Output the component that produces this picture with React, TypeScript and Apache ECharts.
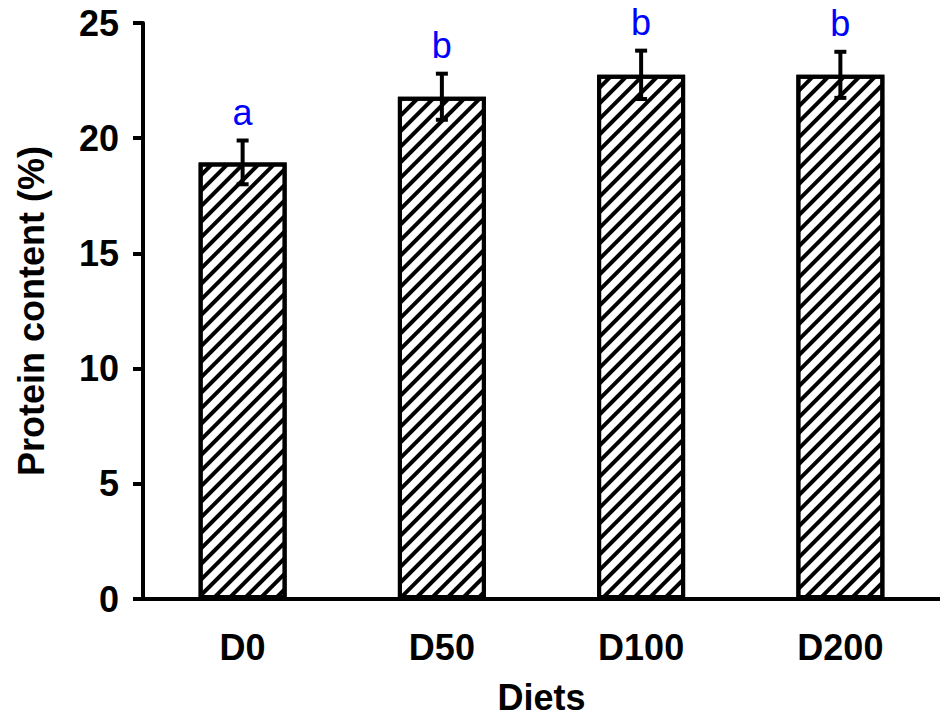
import React, { useEffect, useRef } from "react";
import * as echarts from "echarts";

const categories = ["D0", "D50", "D100", "D200"];
const proteinMeans = [18.95, 21.8, 22.75, 22.75];
const proteinErrors = [0.95, 1.0, 1.05, 1.0];
const groupLetters = ["a", "b", "b", "b"];
const yTicks = { min: 0, max: 25, interval: 5 };

const FONT = "'Liberation Sans', Arial, Helvetica, sans-serif";

export default function App() {
  const ref = useRef<HTMLDivElement>(null);
  useEffect(() => {
    if (!ref.current) return;
    const chart = echarts.init(ref.current, undefined, { renderer: "svg" });
    const errData = categories.map((_, i) => [i, proteinMeans[i], proteinErrors[i]]);
    chart.setOption({
      animation: false,
      backgroundColor: "#ffffff",
      grid: { left: 143, top: 23, width: 808, height: 583, containLabel: false },
      xAxis: {
        type: "category",
        data: categories,
        name: "Diets",
        nameLocation: "middle",
        nameGap: 80,
        nameTextStyle: { fontFamily: FONT, fontWeight: "bold", fontSize: 36, color: "#000" },
        axisLine: { show: true, lineStyle: { color: "#000", width: 4 } },
        axisTick: { show: false },
        axisLabel: { margin: 30, fontFamily: FONT, fontWeight: "bold", fontSize: 36, color: "#000" },
        splitLine: { show: false },
      },
      yAxis: {
        type: "value",
        min: yTicks.min,
        max: yTicks.max,
        interval: yTicks.interval,
        name: "Protein content (%)",
        nameLocation: "middle",
        nameGap: 94,
        nameTextStyle: { fontFamily: FONT, fontWeight: "bold", fontSize: 36, color: "#000" },
        axisLine: { show: true, lineStyle: { color: "#000", width: 4 } },
        axisTick: { show: true, inside: false, length: 10, lineStyle: { color: "#000", width: 4 } },
        axisLabel: { margin: 24, fontFamily: FONT, fontWeight: "bold", fontSize: 36, color: "#000" },
        splitLine: { show: false },
      },
      series: [
        {
          type: "bar",
          data: proteinMeans,
          barWidth: 88,
          itemStyle: {
            color: "#ffffff",
            borderColor: "#000",
            borderWidth: 4,
            decal: {
              symbol: "rect",
              symbolSize: 1,
              color: "#000",
              dashArrayX: [1, 0],
              dashArrayY: [4, 7],
              rotation: -Math.PI / 4,
            },
          },
          z: 2,
        },
        {
          type: "custom",
          data: errData,
          z: 5,
          renderItem: (params: any, api: any) => {
            const x = api.value(0);
            const m = api.value(1);
            const e = api.value(2);
            const letter = groupLetters[params.dataIndex];
            const top = api.coord([x, m + e]);
            const bot = api.coord([x, m - e]);
            const half = 6;
            const style = { stroke: "#000", lineWidth: 4 };
            return {
              type: "group",
              children: [
                { type: "line", shape: { x1: top[0], y1: top[1], x2: bot[0], y2: bot[1] }, style },
                { type: "line", shape: { x1: top[0] - half, y1: top[1], x2: top[0] + half, y2: top[1] }, style },
                { type: "line", shape: { x1: bot[0] - half, y1: bot[1], x2: bot[0] + half, y2: bot[1] }, style },
                {
                  type: "text",
                  x: top[0],
                  y: top[1] - 10,
                  style: {
                    text: letter,
                    fill: "#0000ff",
                    fontSize: 36,
                    fontFamily: FONT,
                    align: "center",
                    verticalAlign: "bottom",
                  },
                },
              ],
            };
          },
        },
      ],
    });
    return () => chart.dispose();
  }, []);
  return (
    <div
      ref={ref}
      style={{ position: "fixed", left: 0, top: 0, width: 940, height: 720, background: "#fff" }}
    />
  );
}
